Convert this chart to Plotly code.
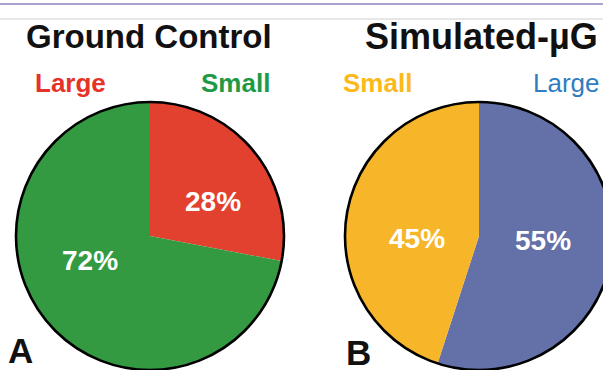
import plotly.graph_objects as go

# Cell size fractions (%) for each culture condition
ground_labels = ["Large", "Small"]
ground_values = [28, 72]
ground_colors = ["#E2412F", "#339A42"]

simulated_labels = ["Large", "Small"]
simulated_values = [55, 45]
simulated_colors = ["#6471A8", "#F7B52A"]

panel_titles = ["Ground Control", "Simulated-\u00b5G"]
panel_letters = ["A", "B"]

W, H = 620, 372  # canvas is a little wider/taller than the view so the pies run off the edges


def px_x(x):
    return x / W


def px_y(y):
    return 1 - y / H


def pie_domain(cx, cy, r):
    return dict(x=[px_x(cx - r), px_x(cx + r)], y=[px_y(cy + r), px_y(cy - r)])


R = 134
left_dom = pie_domain(150, 236, R)
right_dom = pie_domain(479, 236, R)

fig = go.Figure()

for labels, values, colors, dom in [
    (ground_labels, ground_values, ground_colors, left_dom),
    (simulated_labels, simulated_values, simulated_colors, right_dom),
]:
    fig.add_trace(go.Pie(
        labels=labels, values=values, domain=dom,
        marker=dict(colors=colors, line=dict(width=0)),
        sort=False, direction="clockwise", rotation=0,
        textinfo="none", showlegend=False, hoverinfo="label+value",
    ))
    # black outer rim
    fig.add_trace(go.Pie(
        labels=["total"], values=[sum(values)], domain=dom,
        marker=dict(colors=["rgba(0,0,0,0)"], line=dict(color="black", width=2.6)),
        textinfo="none", hoverinfo="skip", showlegend=False, sort=False,
    ))

annotations = []
title_font = dict(family="Arial", color="#111111", weight="bold")
annotations.append(dict(text=panel_titles[0], x=px_x(149), y=px_y(36),
                        font=dict(size=33, **title_font)))
annotations.append(dict(text=panel_titles[1], x=px_x(481), y=px_y(36),
                        font=dict(size=36, **title_font)))

cat_specs = [
    (ground_labels[0], 70, "#E5332A", "bold"),
    (ground_labels[1], 236, "#1E9A45", "bold"),
    (simulated_labels[1], 378, "#FBB91A", "bold"),
    (simulated_labels[0], 566, "#2F7DC0", "normal"),
]
for text, x, color, weight in cat_specs:
    annotations.append(dict(text=text, x=px_x(x), y=px_y(83),
                            font=dict(family="Arial", size=26, color=color, weight=weight)))

# percentage labels inside the slices
pct_font = dict(family="Arial", size=28, color="white", weight="bold")
pct_specs = [
    (ground_values[0], 213, 201),
    (ground_values[1], 90, 260),
    (simulated_values[1], 417, 238),
    (simulated_values[0], 543, 240),
]
for v, x, y in pct_specs:
    annotations.append(dict(text=f"{v}%", x=px_x(x), y=px_y(y), font=pct_font))

annotations.append(dict(text=panel_letters[0], x=px_x(20), y=px_y(350),
                        font=dict(size=35, **title_font)))
annotations.append(dict(text=panel_letters[1], x=px_x(359), y=px_y(352),
                        font=dict(size=35, **title_font)))

for a in annotations:
    a.update(xref="paper", yref="paper", showarrow=False, xanchor="center", yanchor="middle")

shapes = [
    dict(type="line", xref="paper", yref="paper", x0=0, x1=1, y0=px_y(4), y1=px_y(4),
         line=dict(color="#8A86C0", width=1.5)),
    dict(type="line", xref="paper", yref="paper", x0=0, x1=1, y0=px_y(19), y1=px_y(19),
         line=dict(color="#CFCFD4", width=1)),
]

fig.update_layout(
    width=W, height=H,
    margin=dict(l=0, r=0, t=0, b=0),
    paper_bgcolor="white", plot_bgcolor="white",
    annotations=annotations, shapes=shapes,
)

fig.write_html(
    "out.html",
    post_script="document.documentElement.style.overflow='hidden';document.body.style.overflow='hidden';",
)
